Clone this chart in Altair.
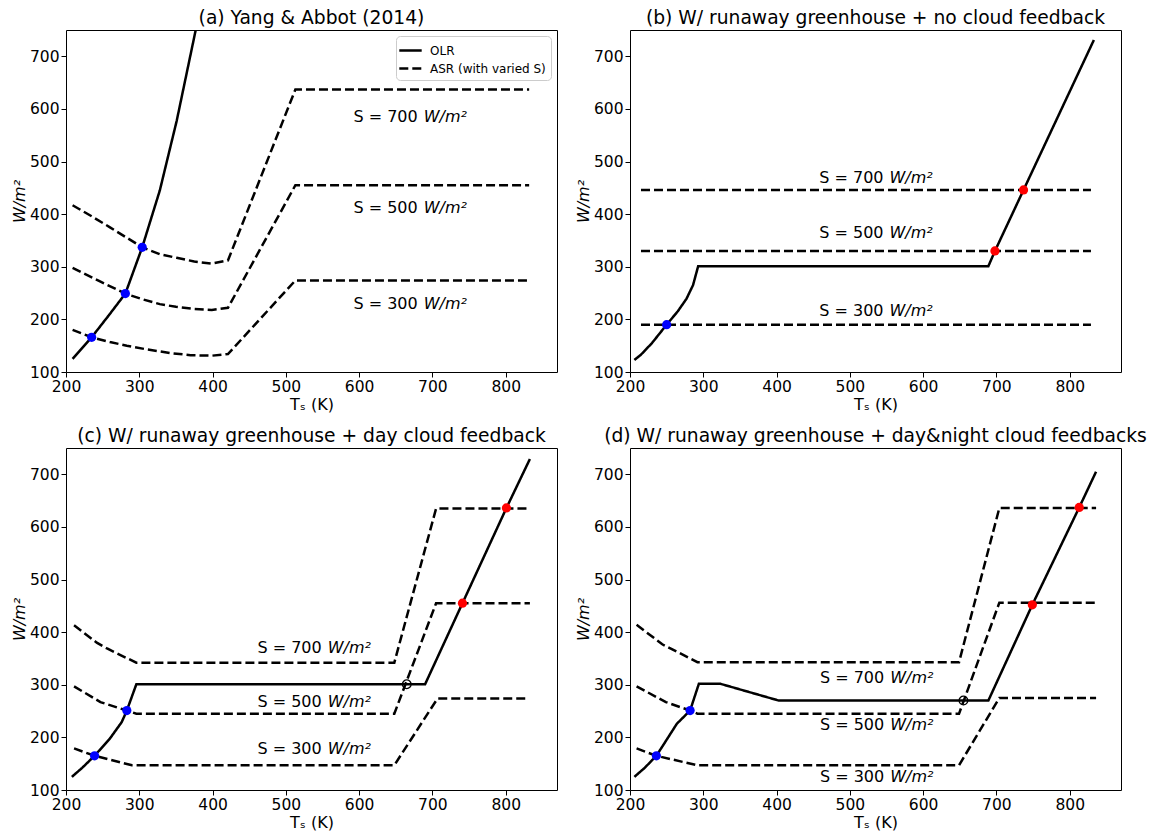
import altair as alt
import pandas as pd

# ---------------- data ----------------
X_TICKS = [200, 300, 400, 500, 600, 700, 800]
Y_TICKS = [100, 200, 300, 400, 500, 600, 700]
TITLES = [
    "(a) Yang & Abbot (2014)",
    "(b) W/ runaway greenhouse + no cloud feedback",
    "(c) W/ runaway greenhouse + day cloud feedback",
    "(d) W/ runaway greenhouse + day&night cloud feedbacks",
]
S_VALUES = ["300", "500", "700"]

# panel (a)
a_olr_T = [209, 235, 258, 281, 304, 328, 351, 377]
a_olr_W = [125, 166, 207, 249, 337, 445, 577, 750]
a_700_T = [209, 235, 260, 282, 304, 328, 351, 375, 399, 421, 513, 832]
a_700_W = [417, 396, 375, 356, 337, 324, 317, 310, 306, 312, 637, 637]
a_500_T = [209, 245, 281, 305, 328, 350, 375, 399, 421, 513, 832]
a_500_W = [298, 273, 249, 238, 229, 224, 220, 218, 222, 455, 455]
a_300_T = [209, 235, 260, 283, 310, 342, 370, 399, 421, 513, 832]
a_300_W = [180, 166, 157, 150, 143, 136, 132, 131, 134, 274, 274]

# panel (b)
b_olr_T = [206, 215, 230, 250, 265, 277, 286, 293, 689, 698, 737, 833]
b_olr_W = [123, 133, 155, 190, 215, 239, 265, 301, 301, 330, 446, 731]
b_700_T = [215, 829]
b_700_W = [446, 446]
b_500_T = [215, 829]
b_500_W = [330, 330]
b_300_T = [215, 829]
b_300_W = [190, 190]

# panel (c)
c_olr_T = [208, 222, 239, 260, 276, 283, 296, 690, 741, 801, 833]
c_olr_W = [125, 142, 165, 198, 229, 251, 301, 301, 455, 636, 729]
c_700_T = [211, 242, 256, 275, 296, 648, 705, 833]
c_700_W = [413, 380, 369, 356, 342, 342, 635, 635]
c_500_T = [211, 247, 283, 296, 648, 705, 833]
c_500_W = [297, 267, 251, 245, 245, 455, 455]
c_300_T = [211, 239, 290, 648, 707, 829]
c_300_W = [179, 165, 147, 147, 274, 274]

# panel (d)
d_olr_T = [206, 220, 236, 264, 282, 294, 323, 403, 689, 749, 813, 836]
d_olr_W = [125, 142, 165, 226, 251, 302, 302, 270, 270, 452, 637, 705]
d_700_T = [209, 244, 292, 649, 704, 836]
d_700_W = [414, 377, 343, 343, 636, 636]
d_500_T = [209, 249, 282, 292, 649, 704, 836]
d_500_W = [297, 267, 251, 245, 245, 456, 456]
d_300_T = [209, 236, 292, 649, 704, 836]
d_300_W = [179, 165, 147, 147, 275, 275]

# equilibrium points
a_stable_T = [235, 281, 304]
a_stable_W = [166, 249, 337]
b_stable_T = [250]
b_stable_W = [190]
b_hot_T = [698, 737]
b_hot_W = [330, 446]
c_stable_T = [239, 283]
c_stable_W = [165, 251]
c_hot_T = [741, 801]
c_hot_W = [455, 636]
c_open_T = [665]
c_open_W = [301]
d_stable_T = [236, 282]
d_stable_W = [165, 251]
d_hot_T = [749, 813]
d_hot_W = [452, 637]
d_open_T = [655]
d_open_W = [270]

# label anchors (x of the gap between "S = ..." and "W/m²", y of text centre) for S=300,500,700
a_lab_T = [684, 684, 684]
a_lab_W = [230, 412, 585]
b_lab_T = [550, 550, 550]
b_lab_W = [216, 364, 469]
c_lab_T = [553, 553, 553]
c_lab_W = [177, 267, 370]
d_lab_T = [551, 551, 551]
d_lab_W = [125, 223, 312]

OLR = "OLR"
ASR = "ASR (with varied S)"


def panel(title, olr, asrs, stable, hot, open_pts, labels, show_legend=False):
    rows = []
    for t, w in zip(*olr):
        rows.append({"curve": "olr", "kind": OLR, "T": t, "W": w})
    for s, (Ts, Ws) in zip(S_VALUES, asrs):
        for t, w in zip(Ts, Ws):
            rows.append({"curve": "asr" + s, "kind": ASR, "T": t, "W": w})
    df = pd.DataFrame(rows)

    pts = []
    for t, w in zip(*stable):
        pts.append({"T": t, "W": w, "c": "#0000ff"})
    for t, w in zip(*hot):
        pts.append({"T": t, "W": w, "c": "#ff0000"})
    pdf = pd.DataFrame(pts)

    xenc = alt.X(
        "T:Q",
        scale=alt.Scale(domain=[200, 870], nice=False, zero=False),
        axis=alt.Axis(values=X_TICKS, title="Tₛ (K)"),
    )
    yenc = alt.Y(
        "W:Q",
        scale=alt.Scale(domain=[100, 750], nice=False, zero=False),
        axis=alt.Axis(values=Y_TICKS, title="W/m²", titleFontStyle="italic"),
    )

    legend = (
        alt.Legend(
            title=None,
            orient="top-right",
            offset=6,
            labelFontSize=12,
            symbolType="M-1.4,0H1.4",
            symbolSize=256,
            symbolStrokeWidth=2.5,
            symbolStrokeColor="black",
            strokeColor="#cccccc",
            fillColor="white",
            cornerRadius=4,
            padding=5,
            rowPadding=2,
            labelOffset=10,
            labelColor="black",
        )
        if show_legend
        else None
    )

    lines = (
        alt.Chart(df)
        .mark_line(color="black", strokeWidth=2.5, clip=True)
        .encode(
            x=xenc,
            y=yenc,
            detail="curve:N",
            strokeDash=alt.StrokeDash(
                "kind:N",
                scale=alt.Scale(domain=[OLR, ASR], range=[[1, 0], [9, 4]]),
                legend=legend,
            ),
        )
    )
    layers = [lines]

    if len(pdf):
        layers.append(
            alt.Chart(pdf)
            .mark_point(filled=True, size=85, opacity=1, shape="circle")
            .encode(x="T:Q", y="W:Q", color=alt.Color("c:N", scale=None))
        )
    if open_pts[0]:
        odf = pd.DataFrame({"T": open_pts[0], "W": open_pts[1]})
        layers.append(
            alt.Chart(odf)
            .mark_point(filled=False, size=75, color="black", strokeWidth=1.3, opacity=1)
            .encode(x="T:Q", y="W:Q")
        )

    ldf = pd.DataFrame(
        {
            "T": labels[0],
            "W": labels[1],
            "left": ["S = " + s for s in S_VALUES],
            "right": ["W/m²"] * 3,
        }
    )
    layers.append(
        alt.Chart(ldf)
        .mark_text(align="right", baseline="middle", fontSize=16, dx=-3, color="black",
                   font="DejaVu Sans")
        .encode(x="T:Q", y="W:Q", text="left:N")
    )
    layers.append(
        alt.Chart(ldf)
        .mark_text(align="left", baseline="middle", fontSize=16, dx=3, color="black",
                   fontStyle="italic", font="DejaVu Sans")
        .encode(x="T:Q", y="W:Q", text="right:N")
    )

    return alt.layer(*layers).properties(
        width=491, height=342, title=alt.TitleParams(title)
    )


pa = panel(TITLES[0], (a_olr_T, a_olr_W),
           [(a_300_T, a_300_W), (a_500_T, a_500_W), (a_700_T, a_700_W)],
           (a_stable_T, a_stable_W), ([], []), ([], []), (a_lab_T, a_lab_W), show_legend=True)
pb = panel(TITLES[1], (b_olr_T, b_olr_W),
           [(b_300_T, b_300_W), (b_500_T, b_500_W), (b_700_T, b_700_W)],
           (b_stable_T, b_stable_W), (b_hot_T, b_hot_W), ([], []), (b_lab_T, b_lab_W))
pc = panel(TITLES[2], (c_olr_T, c_olr_W),
           [(c_300_T, c_300_W), (c_500_T, c_500_W), (c_700_T, c_700_W)],
           (c_stable_T, c_stable_W), (c_hot_T, c_hot_W), (c_open_T, c_open_W), (c_lab_T, c_lab_W))
pd_ = panel(TITLES[3], (d_olr_T, d_olr_W),
            [(d_300_T, d_300_W), (d_500_T, d_500_W), (d_700_T, d_700_W)],
            (d_stable_T, d_stable_W), (d_hot_T, d_hot_W), (d_open_T, d_open_W), (d_lab_T, d_lab_W))

chart = (
    alt.concat(pa, pb, pc, pd_, columns=2, spacing={"row": 76, "column": 73}, bounds="flush")
    .resolve_scale(strokeDash="independent")
    .properties(padding={"left": 2, "top": 0, "right": 5, "bottom": 0})
    .configure(font="DejaVu Sans")
    .configure_view(stroke="black", strokeWidth=1)
    .configure_axis(
        domain=False,
        grid=False,
        ticks=True,
        tickColor="black",
        tickSize=5,
        tickWidth=1,
        labelFontSize=15.5,
        labelColor="black",
        labelPadding=2,
        labelFlush=False,
        labelOverlap=False,
        labelFont="DejaVu Sans",
        titleFont="DejaVu Sans",
        titleFontSize=16,
        titleFontWeight="normal",
        titleColor="black",
        titlePadding=2,
    )
    .configure_title(fontSize=18.7, fontWeight="normal", color="black", offset=2,
                     font="DejaVu Sans", anchor="middle")
)

chart.save("out.html", embed_options={"renderer": "svg", "actions": False})
